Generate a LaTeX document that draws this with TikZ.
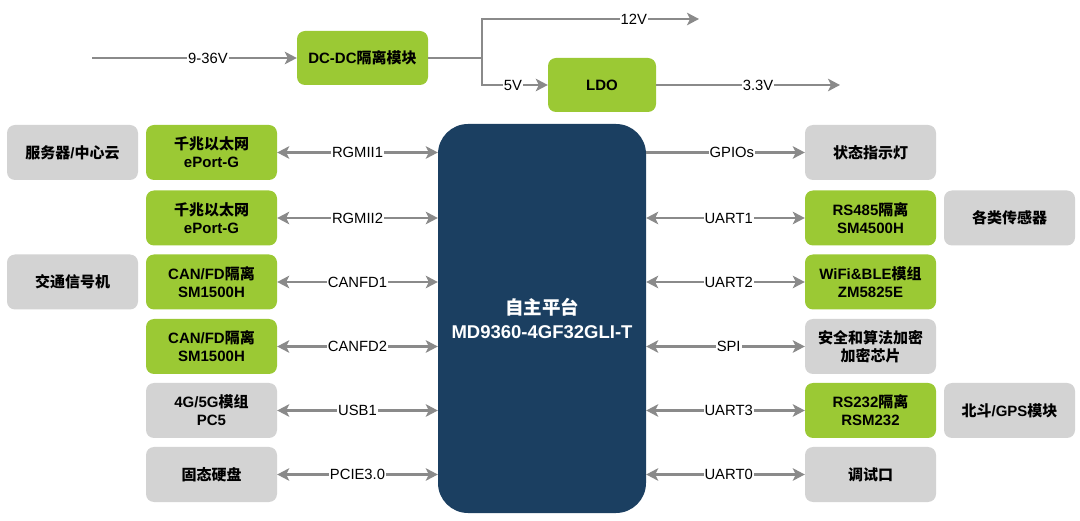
\documentclass[tikz,border=0pt]{standalone}
\usepackage{fontspec}
\setmainfont{Liberation Sans}
\newfontfamily\cjk{Noto Sans CJK SC}
\usetikzlibrary{arrows.meta}
\definecolor{grn}{HTML}{9BC934}
\definecolor{gry}{HTML}{D3D3D3}
\definecolor{navy}{HTML}{1B3F61}
\definecolor{ln}{HTML}{8A8A8A}
\newcommand\zh[1]{{\cjk #1}}
\begin{document}
\begin{tikzpicture}[x=1pt,y=-1pt,
 box/.style={rounded corners=8pt, minimum width=131pt, minimum height=55pt, align=center,
   font=\fontsize{15}{18}\selectfont\bfseries, text=black, inner sep=0pt},
 gbox/.style={box, fill=grn},
 hbox/.style={box, fill=gry},
 tip/.tip={Stealth[length=12pt,width=12.5pt,inset=3pt]},
 conn/.style={draw=ln, line width=2.4pt, -tip},
 bi/.style={draw=ln, line width=2.4pt, tip-tip},
 lbl/.style={fill=white, inner sep=1pt, font=\fontsize{14.8}{16}\selectfont, text=black}]
\useasboundingbox (0,0) rectangle (1080,521);

% top power chain
\node[gbox, minimum width=131pt, minimum height=54pt] (dc) at (362.5,58) {DC-DC\zh{隔离模块}};
\node[gbox, minimum width=108pt, minimum height=54pt] (ldo) at (602,85) {LDO};
\coordinate (vin) at (92,58);
\coordinate (jm) at (482,58);
\coordinate (o12) at (699,19);
\coordinate (o33) at (840,85);
\draw[conn] (vin) -- node[lbl,pos=0.566]{9-36V} (dc);
\draw[conn] (dc.east) -- (jm) |- node[lbl,pos=0.85]{12V} (o12);
\draw[conn] (jm) |- node[lbl,pos=0.735]{5V} (ldo.west);
\draw[conn] (ldo) -- node[lbl,pos=0.554]{3.3V} (o33);

% center
\node[fill=navy, rounded corners=30pt, minimum width=208pt, minimum height=389pt, text=white,
  align=center, font=\fontsize{18.5}{24}\selectfont\bfseries, inner sep=0pt] (soc) at (542,318.5)
  {\zh{自主平台}\\MD9360-4GF32GLI-T};

% left
\node[hbox] (srv) at (72.5,152.5) {\zh{服务器}/\zh{中心云}};
\node[gbox] (eth1) at (211.5,152.5) {\zh{千兆以太网}\\ePort-G};
\node[gbox] (eth2) at (211.5,218) {\zh{千兆以太网}\\ePort-G};
\node[hbox] (traf) at (72.5,282) {\zh{交通信号机}};
\node[gbox] (can1) at (211.5,282) {CAN/FD\zh{隔离}\\SM1500H};
\node[gbox] (can2) at (211.5,346.5) {CAN/FD\zh{隔离}\\SM1500H};
\node[hbox] (g45) at (211.5,410.5) {4G/5G\zh{模组}\\PC5};
\node[hbox] (ssd) at (211.5,474.5) {\zh{固态硬盘}};

% right
\node[hbox] (led) at (870.5,152.5) {\zh{状态指示灯}};
\node[gbox] (rs485) at (870.5,218) {RS485\zh{隔离}\\SM4500H};
\node[hbox] (sens) at (1009.5,218) {\zh{各类传感器}};
\node[gbox] (wifi) at (870.5,282) {WiFi\&BLE\zh{模组}\\ZM5825E};
\node[hbox] (sec) at (870.5,346.5) {\zh{安全和算法加密}\\\zh{加密芯片}};
\node[gbox] (rs232) at (870.5,410.5) {RS232\zh{隔离}\\RSM232};
\node[hbox] (bd) at (1009.5,410.5) {\zh{北斗}/GPS\zh{模块}};
\node[hbox] (dbg) at (870.5,474.5) {\zh{调试口}};

% left connectors
\draw[bi] (eth1.east) -- node[lbl]{RGMII1} (eth1.east -| soc.west);
\draw[bi] (eth2.east) -- node[lbl]{RGMII2} (eth2.east -| soc.west);
\draw[bi] (can1.east) -- node[lbl]{CANFD1} (can1.east -| soc.west);
\draw[bi] (can2.east) -- node[lbl]{CANFD2} (can2.east -| soc.west);
\draw[bi] (g45.east) -- node[lbl]{USB1} (g45.east -| soc.west);
\draw[bi] (ssd.east) -- node[lbl]{PCIE3.0} (ssd.east -| soc.west);

% right connectors
\draw[conn] (led.west -| soc.east) -- node[lbl,pos=0.54]{GPIOs} (led.west);
\draw[bi] (rs485.west -| soc.east) -- node[lbl,pos=0.52]{UART1} (rs485.west);
\draw[bi] (wifi.west -| soc.east) -- node[lbl,pos=0.52]{UART2} (wifi.west);
\draw[bi] (sec.west -| soc.east) -- node[lbl,pos=0.52]{SPI} (sec.west);
\draw[bi] (rs232.west -| soc.east) -- node[lbl,pos=0.52]{UART3} (rs232.west);
\draw[bi] (dbg.west -| soc.east) -- node[lbl,pos=0.52]{UART0} (dbg.west);
\end{tikzpicture}
\end{document}
